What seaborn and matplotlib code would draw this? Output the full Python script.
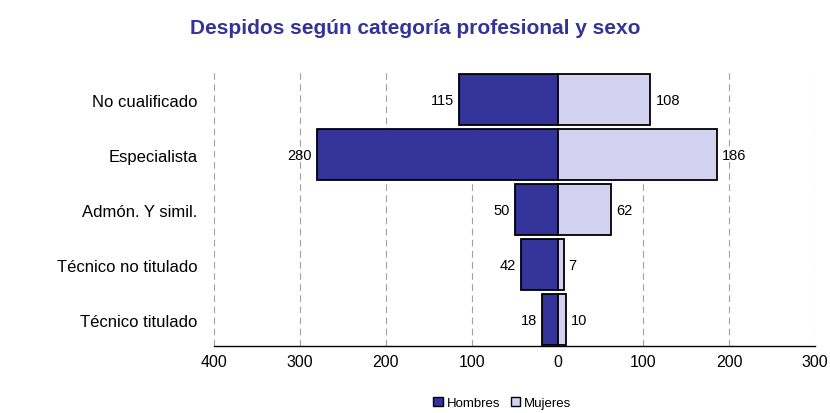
import matplotlib
matplotlib.use("Agg")
import matplotlib.pyplot as plt
import seaborn as sns
import pandas as pd
from matplotlib.patches import Patch

# data
categorias = ["No cualificado", "Especialista", "Admón. Y simil.",
              "Técnico no titulado", "Técnico titulado"]
hombres = [115, 280, 50, 42, 18]
mujeres = [108, 186, 62, 7, 10]
ticks = [-400, -300, -200, -100, 0, 100, 200, 300]
tick_labels = ["400", "300", "200", "100", "0", "100", "200", "300"]

azul = "#333399"
lila = "#D2D2F0"

df = pd.DataFrame({
    "categoria": categorias * 2,
    "sexo": ["Hombres"] * len(categorias) + ["Mujeres"] * len(categorias),
    "valor": [-v for v in hombres] + mujeres,
})

sns.set_style("white")
plt.rcParams["font.family"] = ["Liberation Sans", "DejaVu Sans"]
plt.rcParams["text.color"] = "black"
plt.rcParams["xtick.color"] = "black"
plt.rcParams["ytick.color"] = "black"

fig = plt.figure(figsize=(8.3, 4.14), dpi=100)
ax = fig.add_axes([0.258, 0.162, 0.724, 0.664])

sns.barplot(data=df, x="valor", y="categoria", hue="sexo", dodge=False,
            orient="h", palette={"Hombres": azul, "Mujeres": lila}, saturation=1,
            edgecolor="black", linewidth=1.3, width=0.92, legend=False, ax=ax)

# gridlines
for t in ticks:
    if t != 0:
        ax.axvline(t, color="#A0A0A0", linestyle=(0, (6, 4)), linewidth=0.8, zorder=0)

# value labels
for i, (h, m) in enumerate(zip(hombres, mujeres)):
    ax.text(-h - 6, i, str(h), ha="right", va="center", fontsize=10.5)
    ax.text(m + 6, i, str(m), ha="left", va="center", fontsize=10.5)

ax.set_xlim(-400, 300)
ax.set_ylim(4.48, -0.52)
ax.set_xticks(ticks)
ax.set_xticklabels(tick_labels, fontsize=11.5)
ax.tick_params(axis="x", direction="out", length=5, width=1, color="black", pad=1)
ax.tick_params(axis="y", length=0, pad=12, labelsize=12)
ax.set_xlabel("")
ax.set_ylabel("")
for s in ["top", "right", "left"]:
    ax.spines[s].set_visible(False)
ax.spines["bottom"].set_color("black")
ax.spines["bottom"].set_linewidth(1)

fig.suptitle("Despidos según categoría profesional y sexo", x=0.5, y=0.955,
             fontsize=15, fontweight="bold", color=azul)

handles = [Patch(facecolor=azul, edgecolor="black", label="Hombres"),
           Patch(facecolor=lila, edgecolor="black", label="Mujeres")]
fig.legend(handles=handles, loc="lower center", bbox_to_anchor=(0.605, -0.02),
           ncol=2, frameon=False, fontsize=9.5, handlelength=0.7, handleheight=0.7,
           handletextpad=0.3, columnspacing=0.8)

fig.savefig("out.png", dpi=100)
